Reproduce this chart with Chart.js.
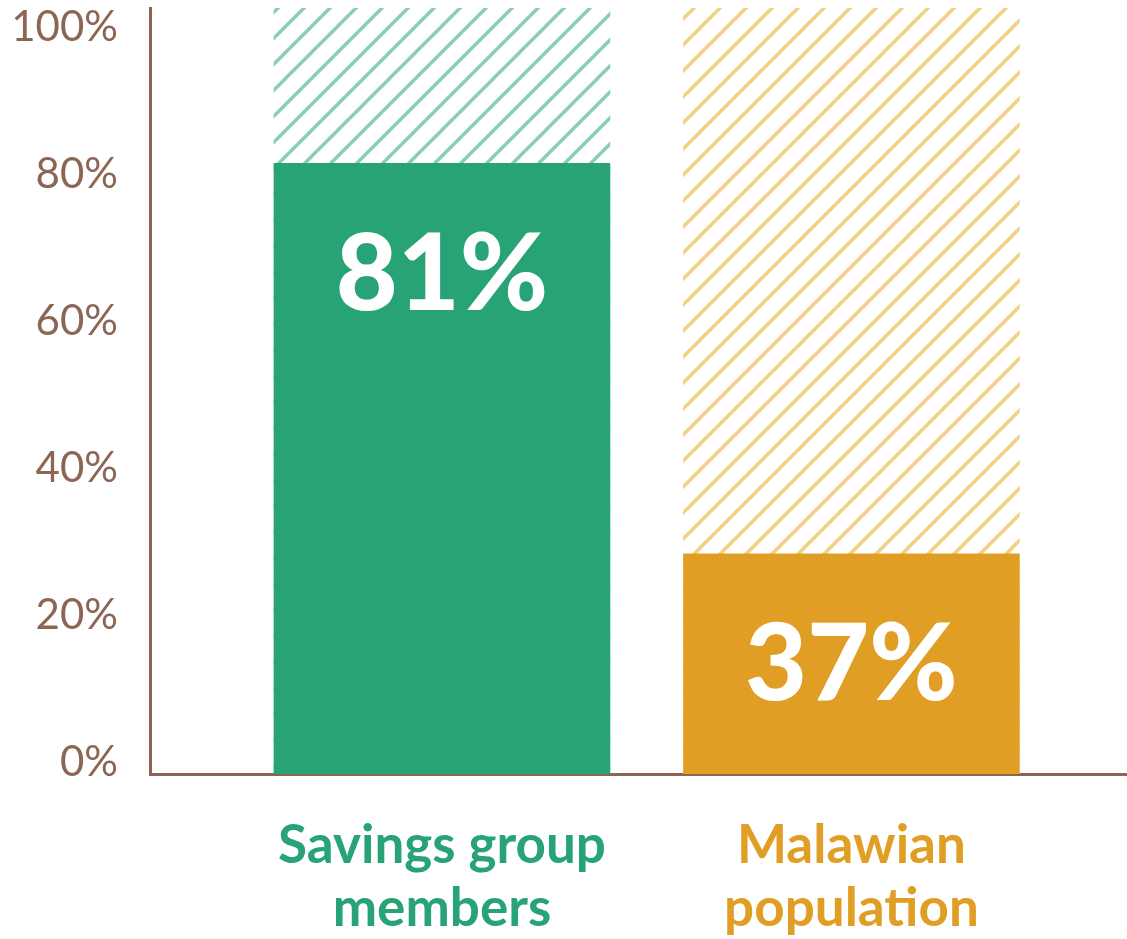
<!DOCTYPE html>
<html lang="en">
<head>
    <meta charset="UTF-8">
    <title>Savings group members vs Malawian population</title>
    <script src="https://cdn.jsdelivr.net/npm/chart.js@4.4.1/dist/chart.umd.min.js"></script>
    <style>
        body{
            margin: 0;
            background: #fff;
        }
        #wrap{
            width: 1127px;
            height: 939px;
        }
    </style>
</head>
<body>
    <div id="wrap">
        <canvas id="chart" width="1127" height="939"></canvas>
    </div>
    <script>
        // chart data
        const categories = [["Savings group", "members"], ["Malawian", "population"]];
        const barValues = [81.5, 28.4];          // bar heights as drawn
        const valueLabels = ["81%", "37%"];      // text printed on the bars
        const barColors = ["#27a375", "#e09f24"];
        const hatchColors = ["#8ccdb0", "#f1d07f"];

        const yMin = -1.6, yMax = 102.6;
        const brown = "#8c6655";

        function hatch(color){
            const size = 26;
            const c = document.createElement('canvas');
            c.width = size; c.height = size;
            const g = c.getContext('2d');
            g.strokeStyle = color;
            g.lineWidth = 3.4;
            [0, size, size * 2].forEach((k)=>{
                g.beginPath();
                g.moveTo(-2, k + 2);
                g.lineTo(k + 2, -2);
                g.stroke();
            });
            return g.createPattern(c, 'repeat');
        }

        // white % labels inside bars
        const valueText = {
            id: 'valueText',
            afterDatasetsDraw(chart){
                const ctx = chart.ctx;
                const meta = chart.getDatasetMeta(0);
                ctx.save();
                ctx.fillStyle = '#fff';
                ctx.font = '900 107px Lato';
                ctx.textAlign = 'center';
                ctx.textBaseline = 'middle';
                meta.data.forEach((bar, i)=>{
                    ctx.fillText(valueLabels[i], bar.x, bar.y + 112);
                });
                ctx.restore();
            }
        };

        const ctx = document.getElementById('chart').getContext('2d');
        new Chart(ctx, {
            type: 'bar',
            data: {
                datasets: [
                    {
                        data: barValues.map((v, i)=>({x: i + 1, y: v})),
                        backgroundColor: barColors,
                        base: yMin,
                        order: 1,
                        barPercentage: 0.822,
                        categoryPercentage: 1
                    },
                    {
                        data: barValues.map((v, i)=>({x: i + 1, y: yMax})),
                        backgroundColor: hatchColors.map(hatch),
                        base: yMin,
                        order: 2,
                        barPercentage: 0.822,
                        categoryPercentage: 1
                    }
                ]
            },
            plugins: [valueText],
            options: {
                responsive: false,
                animation: false,
                layout: { padding: { top: 8, left: 0, right: 0, bottom: 0 } },
                plugins: {
                    legend: { display: false },
                    tooltip: { enabled: false }
                },
                scales: {
                    x: {
                        type: 'linear',
                        stacked: true,
                        offset: false,
                        min: 0.287,
                        max: 2.673,
                        z: 1,
                        grid: { display: false, drawTicks: false, offset: false },
                        border: { display: true, color: brown, width: 3 },
                        ticks: {
                            stepSize: 1,
                            includeBounds: false,
                            padding: 40,
                            font: { family: 'Lato', size: 53, weight: 'bold', lineHeight: 1.19 },
                            color: (c)=> barColors[c.tick.value - 1] || brown,
                            callback: (v)=> categories[v - 1] || ''
                        },
                        afterFit(scale){
                            scale.height = 165;
                            scale.paddingLeft = 0;
                            scale.paddingRight = 0;
                        }
                    },
                    y: {
                        min: yMin,
                        max: yMax,
                        grid: { display: false, drawTicks: false },
                        border: { display: true, color: brown, width: 3 },
                        ticks: {
                            stepSize: 20,
                            includeBounds: false,
                            padding: 32,
                            font: { family: 'Lato', size: 42 },
                            color: brown,
                            callback: (v)=> v + '%'
                        },
                        afterFit(scale){
                            scale.width = 150;
                            scale.paddingTop = 0;
                            scale.paddingBottom = 0;
                        }
                    }
                }
            }
        });
    </script>
</body>
</html>
